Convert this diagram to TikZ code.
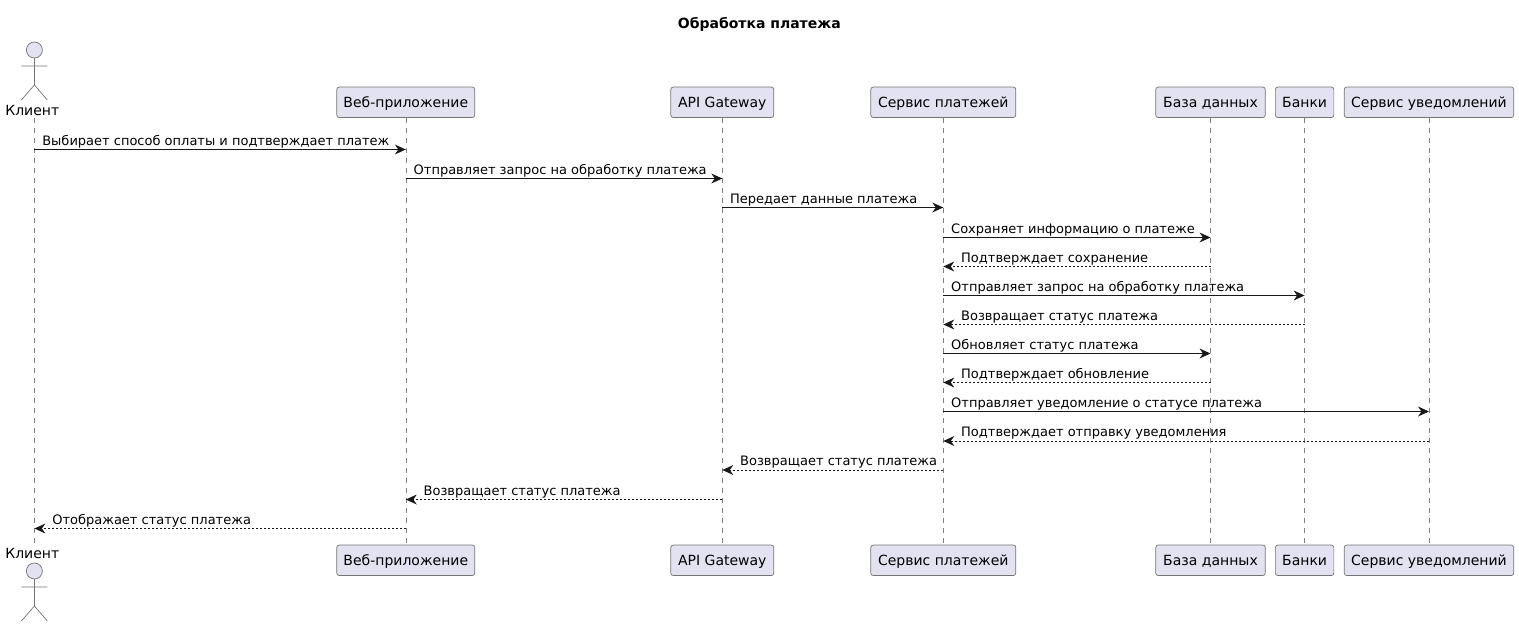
\documentclass[tikz,border=0pt]{standalone}
\usepackage{fontspec}
\setmainfont{DejaVu Sans}
\usetikzlibrary{arrows.meta}
\definecolor{pfill}{HTML}{E2E2F0}
\definecolor{pline}{HTML}{181818}
\tikzset{
  x=1pt,y=-1pt,
  part/.style={draw=pline!60,line width=0.7pt,fill=pfill,rounded corners=2.5pt,minimum height=30.5pt,inner xsep=0pt,inner ysep=0pt,text height=11.5pt,text depth=1.7pt,font=\fontsize{14}{16}\selectfont,text=black},
  actorlabel/.style={inner sep=0pt,font=\fontsize{14}{16}\selectfont,text=black},
  life/.style={draw=pline!55,line width=0.6pt,dash pattern=on 5pt off 5pt},
  actorline/.style={draw=pline!60,line width=0.7pt},
  msgtext/.style={inner sep=0pt,anchor=base west,font=\fontsize{13}{15}\selectfont,text=black},
  tip/.style={-{Stealth[length=11pt,width=10pt,inset=3.5pt,line width=0pt,fill=pline]}},
  callarrow/.style={draw=pline,line width=1pt,tip},
  backarrow/.style={draw=pline,line width=0.9pt,dash pattern=on 2pt off 2pt,tip},
}
\newcommand{\actorfig}[2]{%
  \draw[actorline,fill=pfill] (#1,#2) circle (8);
  \draw[actorline] (#1,#2+8) -- (#1,#2+35) (#1-13,#2+16) -- (#1+13,#2+16)
    (#1-13,#2+50) -- (#1,#2+35) -- (#1+13,#2+50);
}
\newcommand{\callmsg}[4]{%
  \draw[callarrow] (#1.south |- 0,#3) -- (#2.south |- 0,#3);
  \node[msgtext] at ([xshift=7.7pt]#1.south |- 0,#3-4.3) {#4};
}
\newcommand{\backmsg}[4]{%
  \draw[backarrow] (#1.south |- 0,#3) -- (#2.south |- 0,#3);
  \node[msgtext] at ([xshift=17.7pt]#2.south |- 0,#3-4.3) {#4};
}
\begin{document}
\begin{tikzpicture}
\useasboundingbox (0,0) rectangle (1519,626);
\node[font=\fontsize{14}{16}\selectfont\bfseries,inner sep=0pt,anchor=base] (title) at (759.3,28.5) {Обработка платежа};

% top heads
\coordinate (ct) at (34.4,118);
\node[actorlabel,anchor=base] (cl) at (32.3,115) {Клиент};
\node[part,minimum width=138pt] (wt) at (405.8,102.3) {Веб-приложение};
\node[part,minimum width=103pt] (at) at (722.3,102.3) {API Gateway};
\node[part,minimum width=145pt] (st) at (943.3,102.3) {Сервис платежей};
\node[part,minimum width=109.5pt] (dt) at (1210.5,102.3) {База данных};
\node[part,minimum width=58.5pt] (bt) at (1304.6,102.3) {Банки};
\node[part,minimum width=169.5pt] (nt) at (1429,102.3) {Сервис уведомлений};

% bottom heads
\coordinate (cb) at (34.4,544);
\node[actorlabel,anchor=base] (cr) at (32.3,558) {Клиент};
\node[part,minimum width=138pt] (wb) at (405.8,560.3) {Веб-приложение};
\node[part,minimum width=103pt] (ab) at (722.3,560.3) {API Gateway};
\node[part,minimum width=145pt] (sb) at (943.3,560.3) {Сервис платежей};
\node[part,minimum width=109.5pt] (db) at (1210.5,560.3) {База данных};
\node[part,minimum width=58.5pt] (bb) at (1304.6,560.3) {Банки};
\node[part,minimum width=169.5pt] (nb) at (1429,560.3) {Сервис уведомлений};

% lifelines
\foreach \p/\q in {ct/cb,wt/wb,at/ab,st/sb,dt/db,bt/bb,nt/nb}{\draw[life] (\p.south) -- (\q.north);}

\actorfig{34.4}{50}
\actorfig{34.4}{571}

\callmsg{ct}{wt}{149.5}{Выбирает способ оплаты и подтверждает платеж}
\callmsg{wt}{at}{178.5}{Отправляет запрос на обработку платежа}
\callmsg{at}{st}{207.5}{Передает данные платежа}
\callmsg{st}{dt}{237.5}{Сохраняет информацию о платеже}
\backmsg{dt}{st}{266.5}{Подтверждает сохранение}
\callmsg{st}{bt}{295.5}{Отправляет запрос на обработку платежа}
\backmsg{bt}{st}{324.5}{Возвращает статус платежа}
\callmsg{st}{dt}{353.5}{Обновляет статус платежа}
\backmsg{dt}{st}{382.5}{Подтверждает обновление}
\callmsg{st}{nt}{411.5}{Отправляет уведомление о статусе платежа}
\backmsg{nt}{st}{441}{Подтверждает отправку уведомления}
\backmsg{st}{at}{470}{Возвращает статус платежа}
\backmsg{at}{wt}{499.5}{Возвращает статус платежа}
\backmsg{wt}{ct}{528.5}{Отображает статус платежа}
\end{tikzpicture}
\end{document}
